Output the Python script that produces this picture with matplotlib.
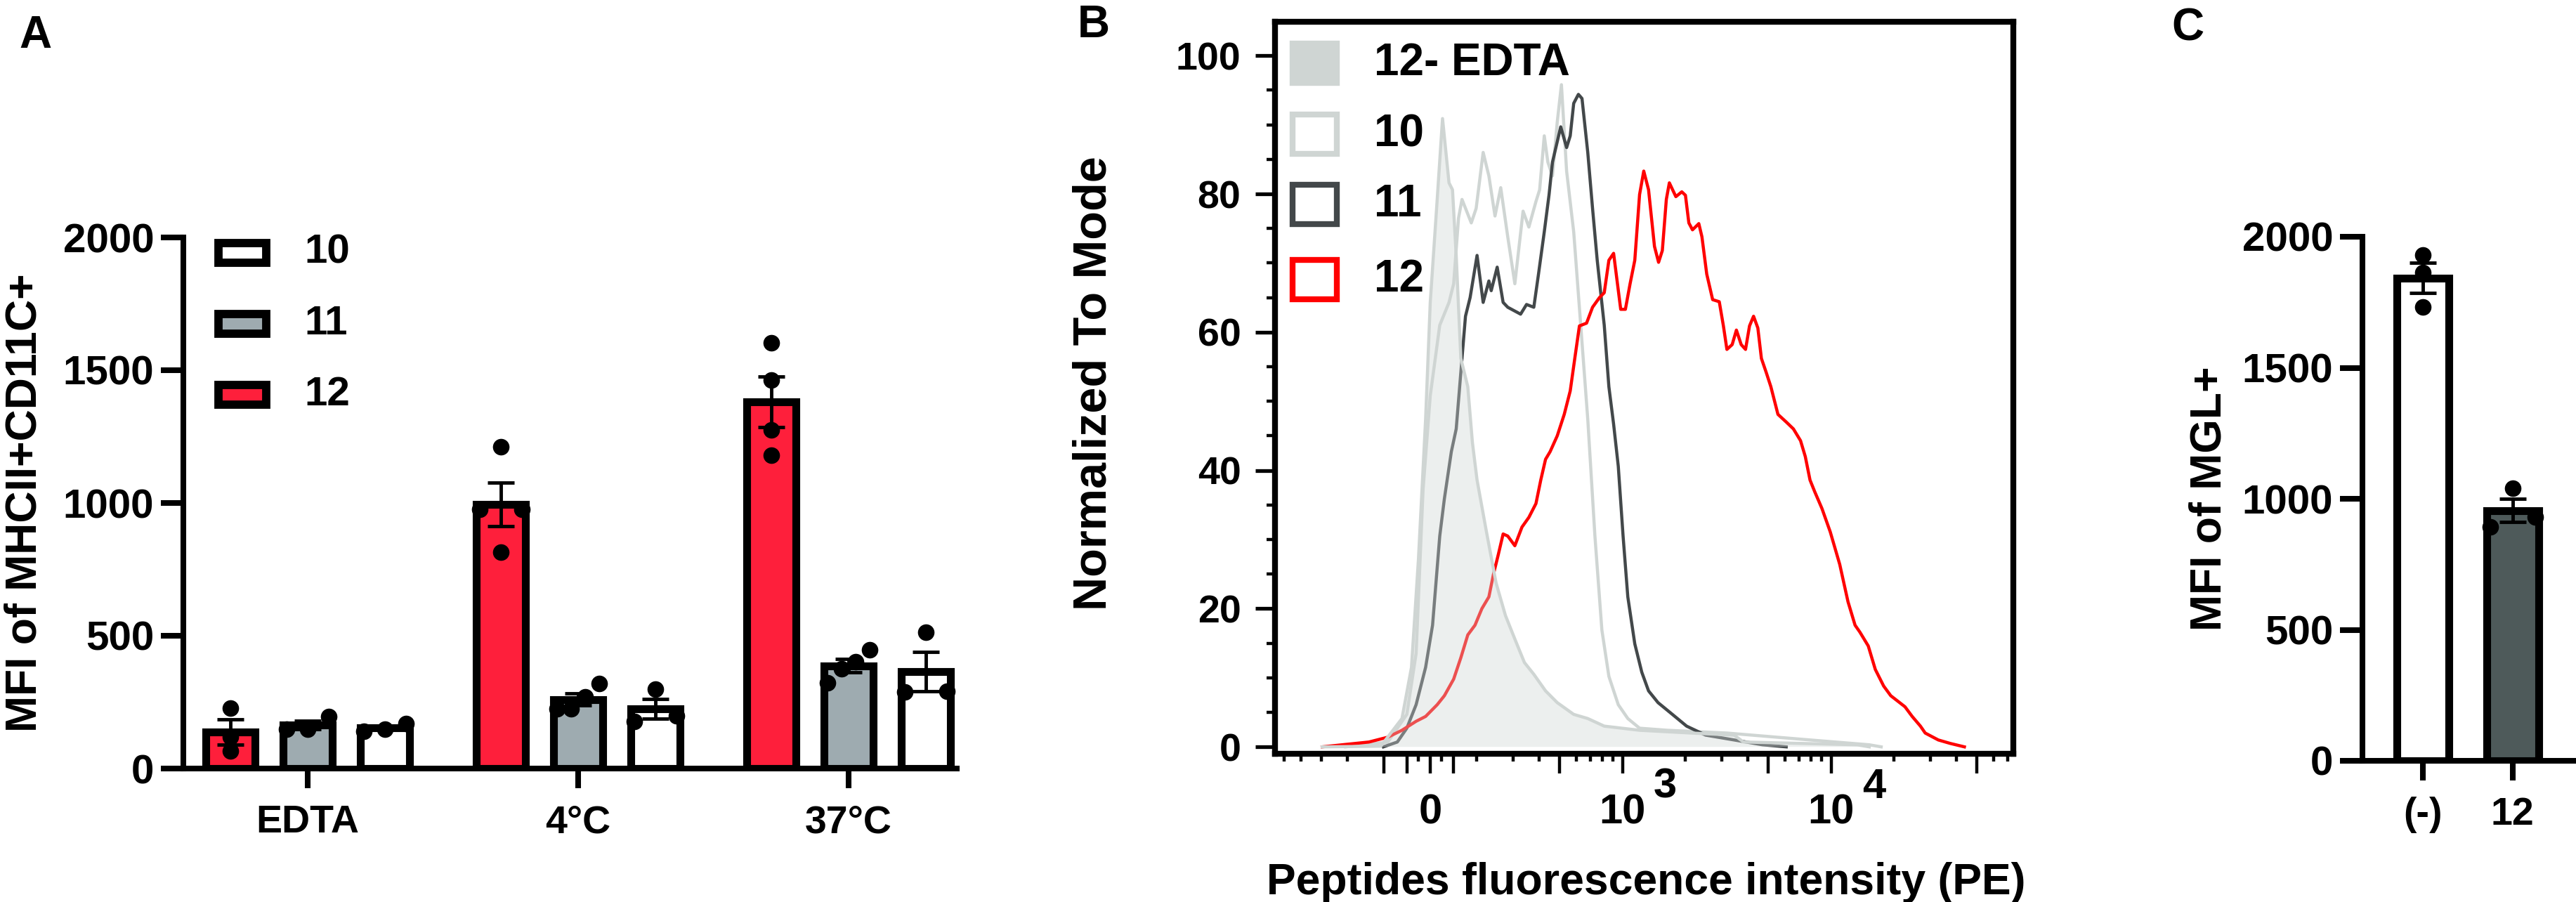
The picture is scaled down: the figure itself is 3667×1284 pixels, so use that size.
import numpy as np
import matplotlib
matplotlib.use('Agg')
import matplotlib.pyplot as plt
from matplotlib.patches import Rectangle

plt.rcParams['font.family'] = ['Liberation Sans', 'DejaVu Sans']
plt.rcParams['font.weight'] = 'bold'
plt.rcParams['axes.labelweight'] = 'bold'

# ---- panel A: MFI of MHCII+CD11C+, single values per bar ----
conditions = ['EDTA', '4°C', '37°C']
legend_a = ['10', '11', '12']
mfi_pep12 = [[228, 120, 66], [1211, 976, 976, 816], [1603, 1463, 1276, 1179]]
mfi_pep11 = [[148, 195, 148], [225, 269, 319, 225], [403, 324, 447, 376]]
mfi_pep10 = [[141, 169, 148], [300, 177, 199], [512, 289, 292]]

# ---- panel B: histograms (PE intensity, % of mode) ----
edta_x = [-395, -207, -122, -81, -51, -20, 0, 30, 53, 81, 96, 112, 132, 162, 182, 201,
          223, 248, 275, 305, 339, 376, 428, 487, 584, 682, 818, 1208, 2138, 3428, 3802,
          13370, 15240]
edta_y = [0, 0.1, 4.1, 11.5, 27.1, 47.4, 64.3, 79.2, 90.9, 81.6, 80.6, 71.1, 56.2, 52.1,
          44, 38.6, 31.1, 23.7, 19, 15.6, 12.2, 10.5, 8.1, 6.4, 4.7, 4.1, 3.0, 2.4, 2.0,
          1.7, 0.7, 0.3, 0]
p10_x = [-305, -183, -101, -61, -31, 0, 41, 81, 101, 122, 137, 177, 198, 215, 229, 245,
         261, 282, 305, 334, 356, 385, 401, 422, 439, 462, 487, 510, 540, 584, 631, 682,
         738, 797, 861, 955, 1061, 1208, 1644, 3167, 7925, 15240, 17380]
p10_y = [0, 0.7, 4.7, 13.5, 37.2, 50.8, 61, 64.3, 67, 76.5, 79.2, 75.8, 77.9, 86, 82.6,
         76.8, 80.9, 73.8, 67, 77.5, 75.2, 78.9, 80.6, 88.4, 84.6, 82.6, 90.4, 95.8, 83.3,
         74.5, 61, 47.4, 30.5, 16.9, 10.2, 6.1, 4.1, 2.7, 2.4, 2.0, 1.0, 0.3, 0]
p11_x = [-201, -142, -101, -61, -20, 10, 41, 61, 91, 112, 132, 152, 172, 201, 215, 229,
         235, 251, 268, 282, 325, 347, 376, 396, 422, 445, 462, 506, 540, 562, 584, 615,
         640, 682, 719, 757, 818, 861, 907, 955, 1007, 1061, 1146, 1238, 1334, 1481, 1735,
         2030, 2502, 3428, 4688, 6095]
p11_y = [0, 0.7, 2.7, 6.1, 11.5, 17.6, 30.5, 35.9, 42.7, 46, 54.2, 62.3, 65, 71.1, 64.3,
         67.4, 66, 69.4, 64.3, 63.6, 62.6, 64, 63.6, 68.4, 74.5, 79.9, 84.6, 89.7, 86.7,
         88.4, 93.1, 94.4, 93.8, 86, 77.9, 70.4, 61, 52.1, 46.7, 40.6, 30.5, 21.7, 14.9,
         10.8, 8.1, 6.4, 4.7, 3.0, 1.7, 1.0, 0.3, 0]
p12_x = [-395, -236, -183, -122, -61, -20, 30, 61, 101, 132, 162, 193, 212, 229, 241, 254,
         268, 282, 305, 330, 356, 385, 406, 428, 450, 487, 526, 562, 591, 622, 673, 719,
         776, 818, 861, 907, 981, 1033, 1088, 1146, 1208, 1265, 1334, 1424, 1490, 1553,
         1623, 1678, 1803, 1925, 2004, 2081, 2166, 2323, 2404, 2535, 2706, 2911, 3047,
         3167, 3357, 3517, 3707, 3890, 4065, 4250, 4456, 4634, 4883, 5145, 5563, 6095,
         6597, 7137, 7522, 7925, 8351, 9036, 9908, 11000, 12050, 13030, 13740, 15070,
         16290, 17860, 19320, 22600, 24470, 26800, 28250, 32640, 37220, 43550]
p12_y = [0, 0.7, 1.4, 2.4, 3.7, 4.4, 6.1, 7.4, 9.8, 12.9, 16.2, 17.6, 20, 21.7, 25, 27.8,
         30.8, 30.5, 29.1, 31.8, 33.2, 35.2, 38.6, 41.6, 42.7, 45, 48.1, 51.5, 56.2, 60.9,
         61.3, 63.6, 65, 65.7, 70.4, 71.4, 63.3, 63.3, 67, 70.4, 79.9, 83.3, 80.6, 72.4,
         70.1, 71.8, 79.2, 81.6, 79.6, 80.3, 79.8, 75.8, 74.8, 75.7, 73.8, 68.4, 64.7,
         64.4, 60.9, 57.5, 58.2, 60.3, 58.2, 57.5, 60.9, 62.3, 60.6, 56.2, 54.2, 52.1,
         48.1, 47, 46, 44.3, 42, 38.6, 36.9, 34.5, 31.1, 26.4, 21, 17.6, 16.6, 14.6, 11.2,
         8.8, 7.4, 5.8, 4.4, 3.0, 2.0, 1.0, 0.5, 0]
legend_b = ['12- EDTA', '10', '11', '12']
xticks_long = [-200, -100, 0, 100, 500, 1000, 5000, 10000, 50000]
xticks_short = [-600, -500, -400, -300, -50, 50, 200, 300, 400, 600, 700, 800, 900,
                2000, 3000, 4000, 6000, 7000, 8000, 9000, 20000, 30000, 40000, 60000, 70000]

# ---- panel C: MFI of MGL+ ----
groups_c = ['(-)', '12']
mgl_neg = [1930, 1864, 1733]
mgl_pep12 = [1040, 894, 931]

RED = '#fe1f3b'
GRAY = '#9eabb0'
SLATE = '#4e5a5a'
LIGHT = '#cfd5d3'
DARK = '#43484a'

W, H = 3667, 1284
fig = plt.figure(figsize=(W / 100, H / 100), dpi=100)


def sem(v):
    return np.std(v, ddof=1) / np.sqrt(len(v))


def spread(vals, thresh, step):
    # simple GraphPad-like scatter: neighbours closer than thresh get side offsets
    vals = np.asarray(vals, float)
    order = np.argsort(vals)
    offs = np.zeros(len(vals))
    clusters = [[order[0]]]
    for i in order[1:]:
        if vals[i] - vals[clusters[-1][-1]] < thresh:
            clusters[-1].append(i)
        else:
            clusters.append([i])
    for c in clusters:
        if len(c) > 1:
            for k, idx in enumerate(c):
                offs[idx] = np.linspace(-step, step, len(c))[k]
    return offs


def bar_with_points(ax, x, pts, color, width, thresh, step):
    m = np.mean(pts)
    ax.bar(x, m, width=width, color=color, edgecolor='black', linewidth=8, zorder=2)
    ax.scatter(x + spread(pts, thresh, step), pts, s=17 ** 2, color='black',
               zorder=3, clip_on=False, linewidths=0)
    ax.errorbar(x, m, yerr=sem(pts), fmt='none', ecolor='black', elinewidth=3.5,
                capsize=14, capthick=3.5, zorder=4)


def style_bar_axes(ax):
    for s in ['top', 'right']:
        ax.spines[s].set_visible(False)
    for s in ['left', 'bottom']:
        ax.spines[s].set_linewidth(5.8)
    ax.tick_params(axis='y', direction='out', length=23, width=5.8, pad=7, labelsize=42)
    ax.tick_params(axis='x', direction='out', length=20, width=5.8, pad=17, labelsize=40)
    ax.set_ylim(0, 2000)
    ax.set_yticks([0, 500, 1000, 1500, 2000])


# ================= panel A =================
ax_a = fig.add_axes([261 / W, 1 - 1094 / H, 1101 / W, 756 / H])
series_a = [(mfi_pep12, RED), (mfi_pep11, GRAY), (mfi_pep10, 'white')]
for j, (data, col) in enumerate(series_a):
    for g, pts in enumerate(data):
        bar_with_points(ax_a, g * 3.5 + j, pts, col, 0.63, 53, 0.27)
style_bar_axes(ax_a)
ax_a.set_xlim(-0.61, 9.4)
ax_a.set_xticks([g * 3.5 + 1 for g in range(len(conditions))])
ax_a.set_xticklabels(conditions)
ax_a.set_ylabel('MFI of MHCII+CD11C+', fontsize=45, va='center')
ax_a.yaxis.set_label_coords(-0.205, 0.5)

leg_cols = ['white', GRAY, RED]
for k, (lab, col) in enumerate(zip(legend_a, leg_cols)):
    yc = [0.971, 0.837, 0.704][k]
    ax_a.add_patch(Rectangle((0.0454, yc - 0.0185), 0.0618, 0.037, transform=ax_a.transAxes,
                             facecolor=col, edgecolor='black', linewidth=8.5, clip_on=False))
    ax_a.text(0.157, yc, lab, transform=ax_a.transAxes, fontsize=42, ha='left', va='center')

# ================= panel B =================
ax_b = fig.add_axes([1815 / W, 1 - 1073 / H, 1051 / W, 1042 / H])
ax_b.set_xscale('symlog', linthresh=200, linscale=0.2)
ax_b.plot(p10_x, p10_y, color=LIGHT, lw=3.2, zorder=2)
ax_b.plot(p11_x, p11_y, color=DARK, lw=3.2, zorder=3)
ax_b.plot(p12_x, p12_y, color='#ff0000', lw=3.2, zorder=4)
ax_b.fill_between(edta_x, edta_y, 0, facecolor=LIGHT, alpha=0.38, edgecolor='none', zorder=5)
ax_b.plot(edta_x, edta_y, color=LIGHT, lw=3.2, zorder=6)
ax_b.set_xlim(-665, 74700)
ax_b.set_ylim(-1, 104.9)
for s in ax_b.spines.values():
    s.set_linewidth(6)
ax_b.set_yticks([0, 20, 40, 60, 80, 100])
ax_b.set_yticks([v for v in range(5, 100, 5) if v % 20], minor=True)
ax_b.tick_params(axis='y', which='major', length=20, width=3.8, pad=15, labelsize=40)
ax_b.tick_params(axis='y', which='minor', length=9, width=3.2)
ax_b.set_xticks(xticks_long)
ax_b.set_xticklabels(['0' if v == 0 else ('10' if v in (1000, 10000) else '') for v in xticks_long])
ax_b.set_xticks(xticks_short, minor=True)
ax_b.tick_params(axis='x', which='major', length=20, width=3.2, pad=21, labelsize=43)
ax_b.tick_params(axis='x', which='minor', length=8, width=3.2)
for v, sup in [(1000, '3'), (10000, '4')]:
    ax_b.annotate(sup, xy=(v, 0), xycoords=('data', 'axes fraction'), xytext=(44, -34),
                  textcoords='offset points', ha='center', va='center', fontsize=43)
ax_b.set_ylabel('Normalized To Mode', fontsize=48, va='center')
ax_b.yaxis.set_label_coords(-0.245, 0.506)
ax_b.set_xlabel('Peptides fluorescence intensity (PE)', fontsize=45, va='center')
ax_b.xaxis.set_label_coords(0.503, -0.176)

leg_rows = [0.9434, 0.8464, 0.7505, 0.6478]
leg_faces = [LIGHT, 'white', 'white', 'white']
leg_edges = [LIGHT, LIGHT, DARK, '#ff0000']
for k, lab in enumerate(legend_b):
    yc = leg_rows[k]
    ax_b.add_patch(Rectangle((0.0238, yc - 0.0268), 0.060, 0.0537, transform=ax_b.transAxes,
                             facecolor=leg_faces[k], edgecolor=leg_edges[k], linewidth=6,
                             zorder=7))
    ax_b.text(0.134, yc, lab, transform=ax_b.transAxes, fontsize=46, ha='left',
              va='center', zorder=8)

# ================= panel C =================
ax_c = fig.add_axes([3363 / W, 1 - 1083 / H, 304 / W, 746 / H])
bar_with_points(ax_c, 0, mgl_neg, 'white', 0.58, 54, 0.25)
bar_with_points(ax_c, 1, mgl_pep12, SLATE, 0.58, 54, 0.25)
style_bar_axes(ax_c)
ax_c.set_xlim(-0.67, 1.705)
ax_c.set_xticks([0, 1])
ax_c.set_xticklabels(groups_c)
ax_c.set_ylabel('MFI of MGL+', fontsize=45, va='center')
ax_c.yaxis.set_label_coords(-0.717, 0.5)

# panel letters
for lab, x, y in [('A', 50, 51), ('B', 1557, 36), ('C', 3114, 41)]:
    fig.text(x / W, 1 - y / H, lab, fontsize=46, ha='center', va='center')

fig.savefig('out.png', dpi=100)
plt.close(fig)
